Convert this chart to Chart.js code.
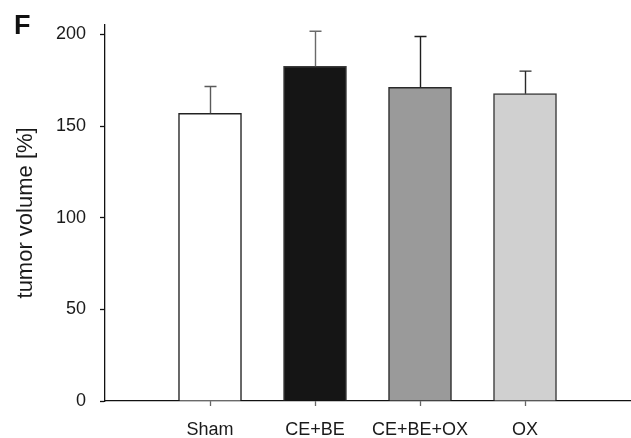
<!DOCTYPE html>
<html>
<head>
<meta charset="utf-8">
<script src="https://cdn.jsdelivr.net/npm/chart.js@4.4.1/dist/chart.umd.min.js"></script>
<style>
html,body{margin:0;padding:0;background:#fff;}
#wrap{position:relative;width:631px;height:438px;}
canvas{display:block;}
</style>
</head>
<body>
<div id="wrap"><canvas id="c" width="631" height="438"></canvas></div>
<script>
// ---- data ----
const categories = ['Sham', 'CE+BE', 'CE+BE+OX', 'OX'];
const meanValues = [157.0, 182.7, 171.2, 167.7];
const errorUpper = [171.6, 201.8, 198.9, 180.0];
const yTickValues = [0, 50, 100, 150, 200];
const panelLetter = 'F';
const yAxisTitle = 'tumor volume [%]';

// ---- styles ----
const fillColors = ['#ffffff', '#151515', '#9a9a9a', '#d0d0d0'];
const borderColors = ['#222222', '#3a3a3a', '#2a2a2a', '#3a3a3a'];
const errColors = ['#5a5a5a', '#6a6a6a', '#1e1e1e', '#2a2a2a'];
const FONT = "'Liberation Sans', Arial, Helvetica, sans-serif";
const TEXT = '#1a1a1a';

// pad with an empty slot on each side (axis spans one extra step each side)
const labels = [''].concat(categories, ['']);
const padded = arr => [null].concat(arr, [null]);

const errPlugin = {
  id: 'errbars',
  afterDatasetsDraw(chart) {
    const ctx = chart.ctx;
    const meta = chart.getDatasetMeta(0);
    const ys = chart.scales.y;
    const up = padded(errorUpper);
    const ec = padded(errColors);
    ctx.save();
    meta.data.forEach((bar, i) => {
      if (up[i] == null) return;
      const x = Math.round(bar.x) + 0.5;
      const yTop = ys.getPixelForValue(up[i]);
      ctx.strokeStyle = ec[i];
      ctx.lineWidth = 1.4;
      ctx.beginPath();
      ctx.moveTo(x, bar.y);
      ctx.lineTo(x, yTop);
      ctx.moveTo(x - 6, yTop);
      ctx.lineTo(x + 6, yTop);
      ctx.stroke();
    });
    ctx.restore();
  }
};

const letterPlugin = {
  id: 'letter',
  afterDraw(chart) {
    const ctx = chart.ctx;
    ctx.save();
    ctx.fillStyle = '#111';
    ctx.font = "bold 27px " + FONT;
    ctx.textBaseline = 'alphabetic';
    ctx.textAlign = 'left';
    ctx.fillText(panelLetter, 14, 34);
    ctx.restore();
  }
};

new Chart(document.getElementById('c'), {
  type: 'bar',
  data: {
    labels: labels,
    datasets: [{
      data: padded(meanValues),
      backgroundColor: padded(fillColors),
      borderColor: padded(borderColors),
      borderWidth: 1.5,
      borderSkipped: 'start',
      barThickness: 63
    }]
  },
  options: {
    responsive: false,
    animation: false,
    devicePixelRatio: 1,
    layout: { padding: { top: 24, right: 1, left: 0, bottom: 0 } },
    plugins: { legend: { display: false }, tooltip: { enabled: false } },
    scales: {
      x: {
        type: 'category',
        offset: false,
        grid: {
          display: true,
          drawOnChartArea: false,
          drawTicks: true,
          tickLength: 5,
          offset: false,
          tickColor: c => (c.index >= 1 && c.index <= categories.length) ? '#666' : 'rgba(0,0,0,0)',
          tickWidth: 1.3
        },
        border: { display: true, color: '#111', width: 1.3 },
        ticks: {
          color: TEXT,
          font: { family: FONT, size: 18 },
          padding: 13,
          maxRotation: 0,
          autoSkip: false
        },
        afterFit: s => { s.height = 37; s.paddingLeft = 0; s.paddingRight = 0; }
      },
      y: {
        min: 0,
        max: 205.3,
        afterBuildTicks: s => { s.ticks = yTickValues.map(v => ({ value: v })); },
        grid: {
          display: true,
          drawOnChartArea: false,
          drawTicks: true,
          tickLength: 5,
          tickColor: '#111',
          tickWidth: 1.3
        },
        border: { display: true, color: '#111', width: 1.3 },
        ticks: {
          color: TEXT,
          font: { family: FONT, size: 18 },
          padding: 14
        },
        title: {
          display: true,
          text: yAxisTitle,
          color: TEXT,
          font: { family: FONT, size: 22 },
          padding: { top: 13, bottom: 0 }
        },
        afterFit: s => { s.width = 105; }
      }
    }
  },
  plugins: [errPlugin, letterPlugin]
});
</script>
</body>
</html>
